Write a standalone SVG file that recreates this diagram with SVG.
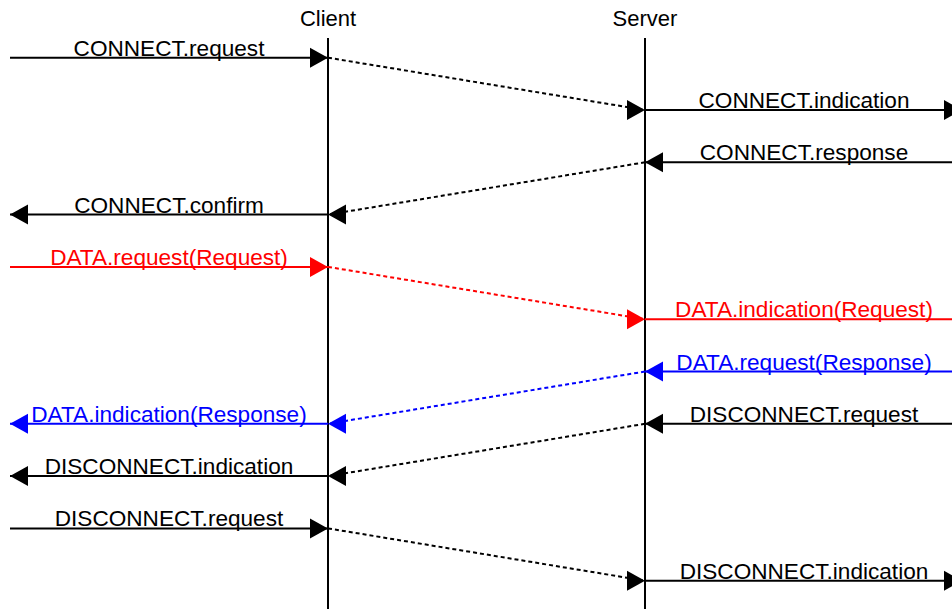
<svg xmlns="http://www.w3.org/2000/svg" xmlns:xlink="http://www.w3.org/1999/xlink" width="952" height="609" viewBox="0 0 952 609">
<style>
text{font-family:"Liberation Sans",Arial,sans-serif;font-size:22.6px;text-anchor:middle;}
.hdr{font-size:22px;}
.life{stroke:#000;stroke-width:2;fill:none;}
.msg{stroke-width:2;fill:none;}
.dash{stroke-width:2;fill:none;stroke-dasharray:4 3;}
.k{stroke:#000;}
.r{stroke:#ff0000;}
.b{stroke:#0000ff;}
.tk{fill:#000;}
.tr{fill:#ff0000;}
.tb{fill:#0000ff;}
</style>
<defs>
<path id="hR" d="M-18,-10 L0,0 L-18,10 Z"/>
<path id="hL" d="M18,-10 L0,0 L18,10 Z"/>
</defs>
<rect width="952" height="609" fill="#fff"/>
<g id="client">
<text x="328" y="26" class="tk hdr">Client</text>
<line class="life" x1="328" y1="38" x2="328" y2="609"/>
</g>
<g id="server">
<text x="645" y="26" class="tk hdr">Server</text>
<line class="life" x1="645" y1="38" x2="645" y2="609"/>
</g>
<g id="connectors">
<line class="msg k" x1="10" y1="57.7" x2="328" y2="57.7"/>
<use xlink:href="#hR" x="328" y="57.7" class="tk"/>
<line class="dash k" x1="328" y1="57.7" x2="645" y2="110"/>
<use xlink:href="#hR" x="645" y="110" class="tk"/>
<line class="msg k" x1="645" y1="110" x2="962" y2="110"/>
<use xlink:href="#hR" x="962" y="110" class="tk"/>
<line class="msg k" x1="645" y1="162.3" x2="965" y2="162.3"/>
<use xlink:href="#hL" x="645" y="162.3" class="tk"/>
<line class="dash k" x1="645" y1="162.3" x2="328" y2="214.6"/>
<use xlink:href="#hL" x="328" y="214.6" class="tk"/>
<line class="msg k" x1="10" y1="214.6" x2="328" y2="214.6"/>
<use xlink:href="#hL" x="10" y="214.6" class="tk"/>
<line class="msg r" x1="10" y1="266.9" x2="328" y2="266.9"/>
<use xlink:href="#hR" x="328" y="266.9" class="tr"/>
<line class="dash r" x1="328" y1="266.9" x2="645" y2="319.2"/>
<use xlink:href="#hR" x="645" y="319.2" class="tr"/>
<line class="msg r" x1="645" y1="319.2" x2="965" y2="319.2"/>
<line class="msg b" x1="645" y1="371.5" x2="965" y2="371.5"/>
<use xlink:href="#hL" x="645" y="371.5" class="tb"/>
<line class="dash b" x1="645" y1="371.5" x2="328" y2="423.8"/>
<use xlink:href="#hL" x="328" y="423.8" class="tb"/>
<line class="msg b" x1="10" y1="423.8" x2="328" y2="423.8"/>
<use xlink:href="#hL" x="10" y="423.8" class="tb"/>
<line class="msg k" x1="645" y1="423.8" x2="965" y2="423.8"/>
<use xlink:href="#hL" x="645" y="423.8" class="tk"/>
<line class="dash k" x1="645" y1="423.8" x2="328" y2="476.1"/>
<use xlink:href="#hL" x="328" y="476.1" class="tk"/>
<line class="msg k" x1="10" y1="476.1" x2="328" y2="476.1"/>
<use xlink:href="#hL" x="10" y="476.1" class="tk"/>
<line class="msg k" x1="10" y1="528.4" x2="328" y2="528.4"/>
<use xlink:href="#hR" x="328" y="528.4" class="tk"/>
<line class="dash k" x1="328" y1="528.4" x2="645" y2="580.7"/>
<use xlink:href="#hR" x="645" y="580.7" class="tk"/>
<line class="msg k" x1="645" y1="580.7" x2="962" y2="580.7"/>
<use xlink:href="#hR" x="962" y="580.7" class="tk"/>
</g>
<g id="labels">
<text x="169" y="55.7" class="tk">CONNECT.request</text>
<text x="804" y="108" class="tk">CONNECT.indication</text>
<text x="804" y="160.3" class="tk">CONNECT.response</text>
<text x="169" y="212.6" class="tk">CONNECT.confirm</text>
<text x="169" y="264.9" class="tr">DATA.request(Request)</text>
<text x="804" y="317.2" class="tr">DATA.indication(Request)</text>
<text x="804" y="369.5" class="tb">DATA.request(Response)</text>
<text x="169" y="421.8" class="tb">DATA.indication(Response)</text>
<text x="804" y="421.8" class="tk">DISCONNECT.request</text>
<text x="169" y="474.1" class="tk">DISCONNECT.indication</text>
<text x="169" y="526.4" class="tk">DISCONNECT.request</text>
<text x="804" y="578.7" class="tk">DISCONNECT.indication</text>
</g>
</svg>
